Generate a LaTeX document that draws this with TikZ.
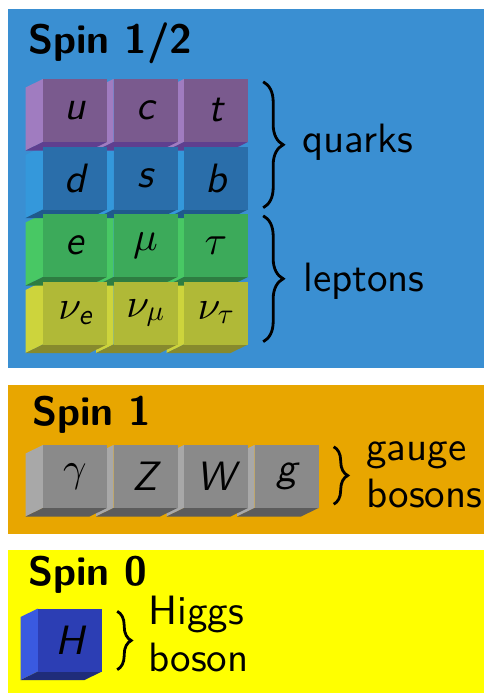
\documentclass[tikz,border=0pt]{standalone}
\usepackage{amsmath}
\usepackage{fontspec}
\setsansfont{lmsans10}[Extension=.otf, UprightFont=*-regular, BoldFont=*-bold,
  ItalicFont=*-oblique, BoldItalicFont=*-boldoblique]
\usetikzlibrary{decorations.pathreplacing}
\DeclareFontShape{OML}{cmm}{m}{it}{<->cmmi10}{}
\newcommand{\msf}[1]{\text{\sffamily\itshape #1}}
\definecolor{sphalf}{HTML}{3A8FD2}
\definecolor{spone}{HTML}{E8A600}
\definecolor{spzero}{HTML}{FFFF00}
\definecolor{quF}{HTML}{7A5A8E}
\definecolor{quS}{HTML}{A07CC0}
\definecolor{quB}{HTML}{5F3F8F}
\definecolor{qdF}{HTML}{2A6EAA}
\definecolor{qdS}{HTML}{3498DB}
\definecolor{qdB}{HTML}{1F5A8C}
\definecolor{leF}{HTML}{3CAA5A}
\definecolor{leS}{HTML}{48C864}
\definecolor{leB}{HTML}{2E7D41}
\definecolor{nuF}{HTML}{B0B937}
\definecolor{nuS}{HTML}{CDD43C}
\definecolor{nuB}{HTML}{878A2D}
\definecolor{gaF}{HTML}{8A8A8A}
\definecolor{gaS}{HTML}{A8A8A8}
\definecolor{gaB}{HTML}{5C5C5C}
\definecolor{hiF}{HTML}{2C3EB4}
\definecolor{hiS}{HTML}{3A5AE0}
\definecolor{hiB}{HTML}{1F2C7A}
\pgfdeclarelayer{panels}
\pgfdeclarelayer{faces}
\pgfsetlayers{panels,faces,main}
\tikzset{
  every picture/.style={x=1pt, y=-1pt},
  particle/.style={fill=#1, minimum width=64pt, minimum height=63pt, inner sep=0pt,
    font=\fontsize{41}{41}\selectfont},
  spin/.style={anchor=base west, inner sep=0pt,
    font=\sffamily\bfseries\fontsize{41}{41}\selectfont},
  grouplabel/.style={inner sep=0pt, align=left,
    font=\sffamily\fontsize{41}{47.5}\selectfont},
  curly/.style={line width=2.8pt, decorate, decoration={brace, amplitude=#1}},
}
\newcommand{\particle}[5]{% #1 name, (#2,#3) centre of front face, #4 colour set, #5 symbol
  \begin{pgfonlayer}{faces}
    \fill[#4S] (#2,#3) ++(-32,-31.5) -- ++(0,63) -- ++(-17.5,8.5) -- ++(0,-63) -- cycle;
    \fill[#4B] (#2,#3) ++(-32,31.5) -- ++(64,0) -- ++(-17.5,8.5) -- ++(-64,0) -- cycle;
  \end{pgfonlayer}
  \node[particle=#4F] (#1) at (#2,#3) {#5};
}

\begin{document}
\begin{tikzpicture}
  \path[use as bounding box] (0,0) rectangle (484,693);
  \begin{pgfonlayer}{panels}
    \fill[sphalf] (8,9) rectangle (484,368);
    \fill[spone] (8,385) rectangle (484,534);
    \fill[spzero] (8,550) rectangle (484,693);
  \end{pgfonlayer}
  \node[spin] (half) at (28,53) {Spin 1/2};
  \node[spin] (one) at (32,425) {Spin 1};
  \node[spin] (zero) at (28,585) {Spin 0};
  % fermions, lowest row first
  \particle{nutau}{216}{313}{nu}{$\nu_\tau$}
  \particle{numu}{145.5}{313}{nu}{$\nu_\mu$}
  \particle{nue}{75}{313}{nu}{$\nu_{\msf{e}}$}
  \particle{tau}{216}{245.5}{le}{$\tau$}
  \particle{mu}{145.5}{245.5}{le}{$\mu$}
  \particle{e}{75}{245.5}{le}{$\msf{e}$}
  \particle{b}{216}{178}{qd}{$\msf{b}$}
  \particle{s}{145.5}{178}{qd}{$\msf{s}$}
  \particle{d}{75}{178}{qd}{$\msf{d}$}
  \particle{t}{216}{110.5}{qu}{$\msf{t}$}
  \particle{c}{145.5}{110.5}{qu}{$\msf{c}$}
  \particle{u}{75}{110.5}{qu}{$\msf{u}$}
  \draw[curly=20] ([xshift=15pt,yshift=-3pt]t.north east) -- ([xshift=15pt,yshift=2pt]b.south east);
  \draw[curly=20] ([xshift=15pt,yshift=-2pt]tau.north east) -- ([xshift=15pt,yshift=3pt]nutau.south east);
  \node[grouplabel, anchor=base west] (quarks) at (302,152) {quarks};
  \node[grouplabel, anchor=base west] (leptons) at (303,291) {leptons};
  % gauge bosons
  \particle{g}{286.5}{476.5}{ga}{$\msf{g}$}
  \particle{W}{216}{476.5}{ga}{$\msf{W}$}
  \particle{Z}{145.5}{476.5}{ga}{$\msf{Z}$}
  \particle{gamma}{75}{476.5}{ga}{$\gamma$}
  \draw[curly=14] ([xshift=15pt,yshift=-2pt]g.north east) -- ([xshift=15pt,yshift=4pt]g.south east);
  \node[grouplabel, anchor=west] (gauge) at (366,475) {gauge\\bosons};
  % scalar
  \particle{H}{70}{640}{hi}{$\msf{H}$}
  \draw[curly=14] ([xshift=15pt,yshift=-3pt]H.north east) -- ([xshift=15pt,yshift=2pt]H.south east);
  \node[grouplabel, anchor=west] (higgs) at (148,634) {Higgs\\boson};
\end{tikzpicture}
\end{document}
